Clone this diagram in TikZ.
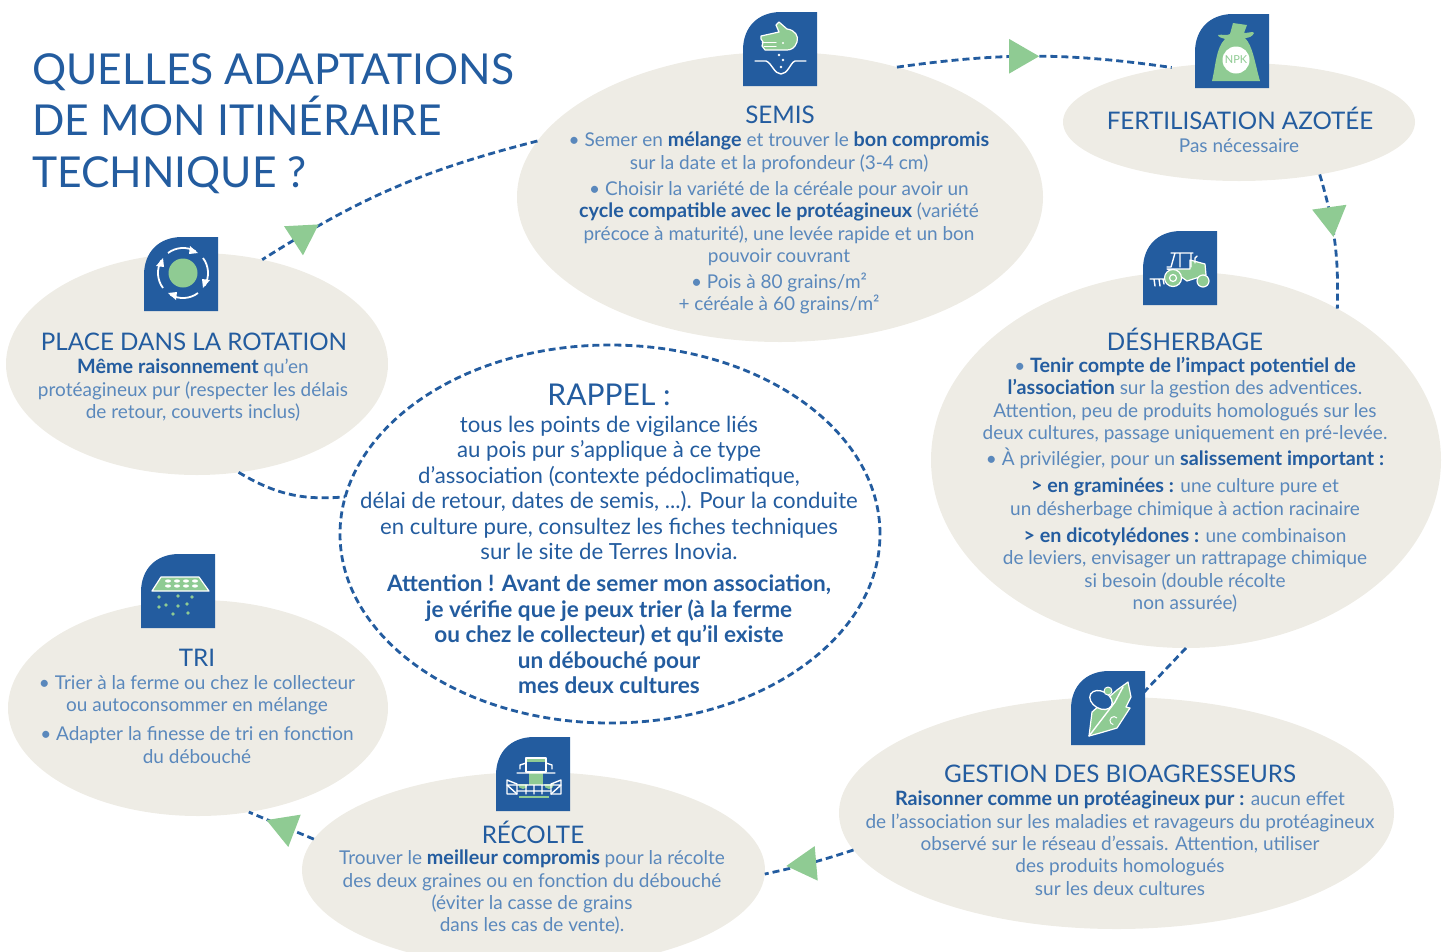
\documentclass[tikz,border=0pt]{standalone}
\usepackage{fontspec}
\setmainfont{Lato}[BoldFeatures={Scale=1.04}]
\usetikzlibrary{shapes.geometric,arrows}
\definecolor{inkblue}{HTML}{235C9F}
\definecolor{inkpale}{HTML}{5A88BC}
\definecolor{sand}{HTML}{EEECE5}
\definecolor{leaf}{HTML}{8FCB93}
\tikzstyle{bubble} =
        [
                ellipse,
                fill = sand,
                inner sep = 0,
                outer sep = 0
        ]
\tikzstyle{recall} =
        [
                ellipse,
                draw = inkblue,
                line width = 2.8pt,
                dash pattern = on 7pt off 4pt,
                inner sep = 0,
                outer sep = 0
        ]
\tikzstyle{flow} =
        [
                draw = inkblue,
                line width = 2.8pt,
                dash pattern = on 7pt off 4pt
        ]
\tikzstyle{tipmark} =
        [
                regular polygon,
                regular polygon sides = 3,
                fill = leaf,
                inner sep = 0,
                minimum size = 40pt,
                solid
        ]
\tikzstyle{heading} =
        [
                text = inkblue,
                align = center,
                inner sep = 0,
                font = \fontsize{24.2}{28}\selectfont
        ]
\tikzstyle{bodytext} =
        [
                text = inkpale,
                align = center,
                anchor = north,
                inner sep = 0,
                font = \fontsize{19}{22.3}\selectfont
        ]
\tikzstyle{pic line} =
        [
                draw = white,
                line width = 1.4pt,
                line cap = round,
                line join = round
        ]
\tikzstyle{pic fill} =
        [
                fill = leaf,
                draw = white,
                line width = 1.2pt,
                line join = round
        ]
\newcommand{\fort}[1]{{\bfseries\color{inkblue}#1}}
\newcommand{\iconbox}{\fill[inkblue] (0,74) -- (0,38) .. controls (0,15) and (15,0) .. (38,0) -- (74,0) -- (74,74) -- cycle;}
\begin{document}
\begin{tikzpicture}[x=1pt,y=-1pt]
    \useasboundingbox (0,0) rectangle (1445,951);
    % bubbles
    \node [bubble, minimum width = 526pt, minimum height = 290pt] (semis) at (780,197) {};
    \node [bubble, minimum width = 352pt, minimum height = 118pt] (fertil) at (1239,122) {};
    \node [bubble, minimum width = 510pt, minimum height = 376pt] (desherb) at (1186,460) {};
    \node [bubble, minimum width = 555pt, minimum height = 232pt] (gestion) at (1116.5,813) {};
    \node [bubble, minimum width = 463pt, minimum height = 196pt] (recolte) at (533.5,870) {};
    \node [bubble, minimum width = 380pt, minimum height = 216pt] (tri) at (198,708) {};
    \node [bubble, minimum width = 382pt, minimum height = 222pt] (place) at (197,364) {};
    \node [recall, minimum width = 540pt, minimum height = 378pt] (rappel) at (610,534) {};
    % connectors
    \path [flow] (semis.48) to [bend left = 8] node [tipmark, rotate = -90, pos = .44] (tipfertil) {} (fertil.141);
    \path [flow] (fertil.-33) to [bend left = 9] node [tipmark, rotate = -172, pos = .31] (tipdesherb) {} (desherb.45);
    \path [flow] (desherb.-90) -- (gestion.79);
    \path [flow] (gestion.188.5) to [bend left = 3] node [tipmark, rotate = 95, pos = .54] (tiprecolte) {} (recolte.-1);
    \path [flow] (recolte.172.6) -- node [tipmark, rotate = -171, pos = .44] (tiptri) {} (tri.-64);
    \path [flow] (semis.167) to [bend right = 9] node [tipmark, rotate = -177, pos = .86] (tipplace) {} (place.58);
    \path [flow] (place.-69) to [bend right = 18] (rappel.172);
    % title
    \node [text = inkblue, align = left, anchor = north west, inner sep = 0,
           font = \fontsize{42.6}{51.5}\selectfont] (title) at (32,53)
          {QUELLES ADAPTATIONS\\DE MON ITINÉRAIRE\\TECHNIQUE ?};
    % semis
    \node [heading] (semistitle) at (780,115) {SEMIS};
    \node [bodytext] (semisbody) at (779,132)
          {• Semer en \fort{mélange} et trouver le \fort{bon compromis}\\
           sur la date et la profondeur (3-4 cm)\\[4pt]
           • Choisir la variété de la céréale pour avoir un\\
           \fort{cycle compatible avec le protéagineux} (variété\\
           précoce à maturité), une levée rapide et un bon\\
           pouvoir couvrant\\[4pt]
           • Pois à 80 grains/m²\\
           + céréale à 60 grains/m²};
    % fertilisation
    \node [heading] (fertiltitle) at (1240,118) {FERTILISATION AZOTÉE};
    \node [bodytext] (fertilbody) at (1239,138) {Pas nécessaire};
    % desherbage
    \node [heading] (desherbtitle) at (1185,339) {DÉSHERBAGE};
    \node [bodytext] (desherbbody) at (1185,357)
          {• \fort{Tenir compte de l’impact potentiel de}\\
           \fort{l’association} sur la gestion des adventices.\\
           Attention, peu de produits homologués sur les\\
           deux cultures, passage uniquement en pré-levée.\\[4pt]
           • À privilégier, pour un \fort{salissement important :}\\[5pt]
           \fort{> en graminées :} une culture pure et\\
           un désherbage chimique à action racinaire\\[5pt]
           \fort{> en dicotylédones :} une combinaison\\
           de leviers, envisager un rattrapage chimique\\
           si besoin (double récolte\\
           non assurée)};
    % gestion
    \node [heading] (gestiontitle) at (1120,774) {GESTION DES BIOAGRESSEURS};
    \node [bodytext] (gestionbody) at (1120,791)
          {\fort{Raisonner comme un protéagineux pur :} aucun effet\\
           de l’association sur les maladies et ravageurs du protéagineux\\
           observé sur le réseau d’essais. Attention, utiliser\\
           des produits homologués\\
           sur les deux cultures};
    % recolte
    \node [heading] (recoltetitle) at (533,832) {RÉCOLTE};
    \node [bodytext] (recoltebody) at (532,850)
          {Trouver le \fort{meilleur compromis} pour la récolte\\
           des deux graines ou en fonction du débouché\\
           (éviter la casse de grains\\
           dans les cas de vente).};
    % tri
    \node [heading] (trititle) at (197,658) {TRI};
    \node [bodytext] (tribody) at (197,675)
          {• Trier à la ferme ou chez le collecteur\\
           ou autoconsommer en mélange\\[7pt]
           • Adapter la finesse de tri en fonction\\
           du débouché};
    % rotation
    \node [heading] (placetitle) at (194,342) {PLACE DANS LA ROTATION};
    \node [bodytext] (placebody) at (193,359)
          {\fort{Même raisonnement} qu’en\\
           protéagineux pur (respecter les délais\\
           de retour, couverts inclus)};
    % rappel
    \node [heading, font = \fontsize{30}{34}\selectfont] (rappeltitle) at (609,395) {RAPPEL :};
    \node [bodytext, text = inkblue, font = \fontsize{22.2}{25.4}\selectfont] (rappelbody) at (609,416)
          {tous les points de vigilance liés\\
           au pois pur s’applique à ce type\\
           d’association (contexte pédoclimatique,\\
           délai de retour, dates de semis, ...). Pour la conduite\\
           en culture pure, consultez les fiches techniques\\
           sur le site de Terres Inovia.};
    \node [bodytext, text = inkblue, font = \fontsize{21.7}{25.4}\selectfont\bfseries] (rappelnote) at (609,575)
          {Attention ! Avant de semer mon association,\\
           je vérifie que je peux trier (à la ferme\\
           ou chez le collecteur) et qu’il existe\\
           un débouché pour\\
           mes deux cultures};
    % icon semis
    \begin{scope}[shift={(743,12)}]
        \iconbox
        \path [pic fill] (18,24) -- (36,20) -- (33,13) -- (36,10) -- (44,17) .. controls (52,18) and (56,24) .. (54,30) .. controls (52,36) and (48,38) .. (44,38) -- (22,38) -- (19,34) -- (20,30) -- (18,27) -- cycle;
        \path [pic line, line width = 1pt] (19,30) -- (33,30) (21,34) -- (33,34);
        \fill [white] (40,31) circle [radius = 1.2];
        \path [pic line] (12,49) -- (23,49) .. controls (29,51) and (31,62) .. (38,62) .. controls (45,62) and (47,51) .. (52,49) -- (63,49);
        \fill [white] (36,43) circle [radius = 1.4] (40,48) circle [radius = 1.4] (38,55) circle [radius = 1.4];
    \end{scope}
    % icon npk
    \begin{scope}[shift={(1195,14)}]
        \iconbox
        \fill [leaf] (38,9) -- (52,11) -- (49,19) .. controls (54,19) and (58,17) .. (59,19) .. controls (58,22) and (54,24) .. (50,24)
              .. controls (58,32) and (60,50) .. (65,67) -- (17,67) .. controls (21,50) and (21,34) .. (30,25)
              .. controls (27,24) and (23,23) .. (23,21) .. controls (27,20) and (32,22) .. (35,20) -- cycle;
        \fill [white] (41,46) circle [radius = 13.5];
        \node [text = leaf, inner sep = 0, font = \fontsize{11}{12}\selectfont] (npktext) at (41,46) {NPK};
    \end{scope}
    % icon tractor
    \begin{scope}[shift={(1143,231)}]
        \iconbox
        \path [pic fill] (24,38) -- (47,38) -- (47,29) -- (62,33) -- (63,44) -- (44,50) -- (30,40) -- cycle;
        \path [pic line] (28,22) -- (50,22) (32,22) -- (28,36) -- (24,36) (37,22) -- (37,36) (48,22) -- (48,36) (52,32) -- (52,27) -- (54,25);
        \path [pic line] (7,48) -- (22,48) (11,48) -- (12,55) (16,48) -- (17,55) (20,48) -- (21,53);
        \path [pic fill] (30,47) circle [radius = 8.5];
        \draw [white, line width = 1.2pt] (30,47) circle [radius = 3.5];
        \path [pic fill] (60,50) circle [radius = 6];
    \end{scope}
    % icon rotation
    \begin{scope}[shift={(144,237)}]
        \iconbox
        \fill [leaf] (39,36) circle [radius = 14.5];
        \foreach \turn in {0,90,180,270} {
            \begin{scope}[shift={(39,36)}, rotate = \turn]
                \draw [white, line width = 1.8pt] (-15,-20) arc [start angle = 233, end angle = 300, radius = 25];
                \fill [white] (7,-27) -- (15,-20) -- (6,-19) -- cycle;
            \end{scope}
        }
    \end{scope}
    % icon tri
    \begin{scope}[shift={(141,554)}]
        \iconbox
        \path [pic fill] (20,23) -- (58,23) -- (68,37) -- (11,37) -- cycle;
        \foreach \col in {27,36,45,54} {
            \fill [white] (\col,27) ellipse [x radius = 3, y radius = 1.6];
            \fill [white] (\col,32) ellipse [x radius = 3, y radius = 1.6];
        }
        \foreach \spotx/\spoty in {18/43,37/42,51/43,18/53,25/51,37/52,46/50,32/60,47/59} {
            \fill [leaf] (\spotx,\spoty) circle [radius = 1.8];
        }
    \end{scope}
    % icon recolte
    \begin{scope}[shift={(496,737)}]
        \iconbox
        \fill [leaf] (30,21) -- (50,21) -- (50,25) -- (30,25) -- cycle;
        \path [pic fill, draw = none] (33,36) rectangle (47,48);
        \path [pic fill, draw = none] (22,47) arc [start angle = 180, end angle = 0, radius = 5] -- cycle;
        \path [pic fill, draw = none] (48,47) arc [start angle = 180, end angle = 0, radius = 5] -- cycle;
        \path [pic fill, draw = none] (23,59) rectangle (53,61);
        \path [pic line] (30,35) -- (30,21) -- (50,21) -- (50,35) (30,35) -- (50,35);
        \path [pic line] (24,32) -- (24,28) -- (30,26) (56,32) -- (56,28) -- (50,26) (21,36) -- (59,36);
        \path [pic line] (11,43) -- (11,57) -- (21,57) -- (21,47) -- (11,43) (65,43) -- (65,57) -- (55,57) -- (55,47) -- (65,43);
        \path [pic line] (11,48) -- (65,48) (21,54) -- (55,54) (30,48) -- (30,57) (38,48) -- (38,57) (46,48) -- (46,57) (11,48) -- (21,57) (65,48) -- (55,57);
    \end{scope}
    % icon gestion
    \begin{scope}[shift={(1071,671)}]
        \iconbox
        \path [pic fill] (18,65) -- (21,41) -- (46,19) -- (57,11) -- (60,26) -- (55,36) -- (59,37) -- (46,57) -- (29,62) -- cycle;
        \path [pic line] (18,65) -- (44,31) -- (52,16);
        \draw [white, line width = 1pt] (46,47) arc [start angle = -40, end angle = -260, radius = 4];
        \draw [white, line width = 1.3pt, fill = inkblue, rotate around = {-30:(30,29)}] (30,29) ellipse [x radius = 12, y radius = 8.5];
        \path [pic fill, line width = 1pt] (37,20) circle [radius = 4];
    \end{scope}
\end{tikzpicture}
\end{document}
